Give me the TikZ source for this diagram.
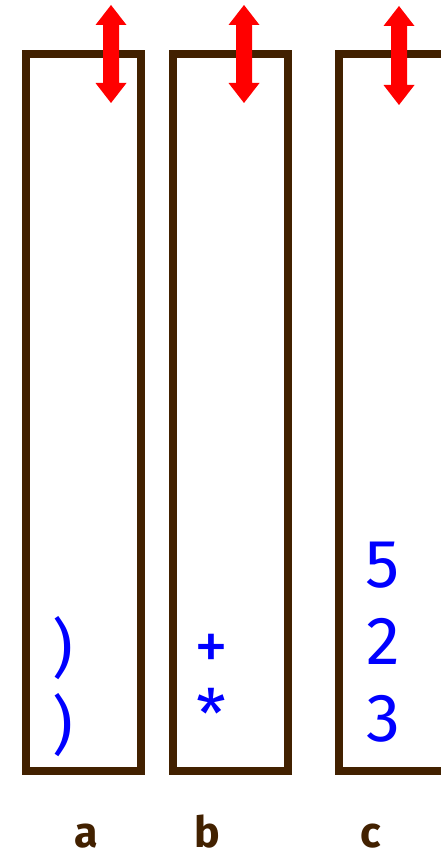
\documentclass[tikz,border=0pt]{standalone}
\usepackage{fontspec}
\setmainfont{Fira Sans}
\definecolor{stackbrown}{RGB}{66,33,0}
\definecolor{itemblue}{RGB}{0,0,255}
\definecolor{arrowred}{RGB}{255,0,0}
\begin{document}
\begin{tikzpicture}[x=1pt,y=-1pt,
  stackbox/.style={draw=stackbrown,line width=8pt},
  item/.style={inner sep=0pt,text=itemblue,font=\fontsize{68}{70}\selectfont},
  paren/.style={inner sep=0pt,text=itemblue,font=\fontsize{64}{66}\selectfont},
  lab/.style={inner sep=0pt,anchor=base,text=stackbrown,font=\bfseries\fontsize{43}{45}\selectfont},
  updown/.style={fill=arrowred}]
\useasboundingbox (0,0) rectangle (441,858);
\fill[white] (0,0) rectangle (441,858);
% stacks
\begin{scope}
\clip (0,0) rectangle (441,800);
\draw[stackbox] (26,54) rectangle (141,771);
\draw[stackbox] (173,54) rectangle (288,771);
\draw[stackbox] (339,54) rectangle (470,771);
\end{scope}
% double arrows
\foreach \cx/\ty/\by in {111/5/103, 244/5/103, 399/6/105}{
  \fill[updown] (\cx,\ty) -- (\cx+15.5,\ty+20) -- (\cx+8,\ty+20) -- (\cx+8,\by-20)
    -- (\cx+15.5,\by-20) -- (\cx,\by) -- (\cx-15.5,\by-20) -- (\cx-8,\by-20)
    -- (\cx-8,\ty+20) -- (\cx-15.5,\ty+20) -- cycle;
}
% contents
\node[paren] (a1) at (63,648) {)};
\node[paren] (a2) at (63,725) {)};
\node[item] (b1) at (211,652) {+};
\node[item] (b2) at (211,713) {*};
\node[item] (c1) at (383,565) {5};
\node[item] (c2) at (383,641) {2};
\node[item] (c3) at (383,719) {3};
% labels
\node[lab] (la) at (86,847) {a};
\node[lab] (lb) at (207,847) {b};
\node[lab] (lc) at (371,847) {c};
\end{tikzpicture}
\end{document}
